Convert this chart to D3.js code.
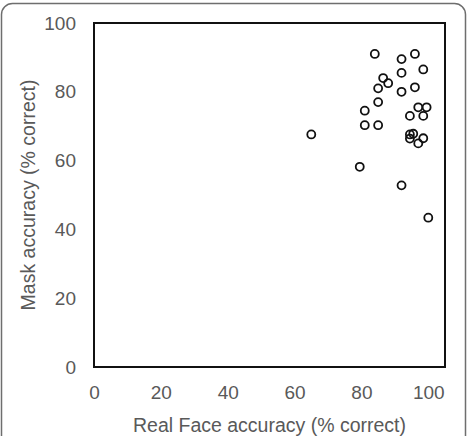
<!DOCTYPE html>
<html lang="en">
<meta charset="utf-8">
<style>
body { margin: 0; background: #fff; }
text { font-family: "Liberation Sans", Arial, sans-serif; fill: #595959; }
</style>
<body>
<script src="https://d3js.org/d3.v7.min.js"></script>
<div id="chart"></div>
<script>
// values
var realFace = [84, 92, 96, 98.5, 92, 86.5, 88, 85, 92, 96, 85, 81, 97, 99.5,
                94.5, 98.5, 81, 85, 94.5, 95.5, 94.5, 98.5, 97, 65, 79.5, 92, 100];
var maskAcc  = [91, 89.5, 91, 86.5, 85.5, 84, 82.5, 81, 80, 81.3, 77, 74.5, 75.5, 75.5,
                73, 73, 70.3, 70.3, 67.6, 67.8, 66.4, 66.5, 65, 67.6, 58.2, 52.8, 43.4];
var xTicks = [0, 20, 40, 60, 80, 100];
var yTicks = [0, 20, 40, 60, 80, 100];

var width = 469, height = 436;

var svg = d3.select("#chart").append("svg")
    .attr("width", width)
    .attr("height", height);

// outer rounded frame
svg.append("rect")
    .attr("x", 1.5).attr("y", 3.5)
    .attr("width", 464).attr("height", 450)
    .attr("rx", 11).attr("ry", 11)
    .attr("fill", "none")
    .attr("stroke", "#6e6e6e")
    .attr("stroke-width", 1.5);

var x = d3.scaleLinear().domain([0, 105]).range([94, 445]);
var y = d3.scaleLinear().domain([0, 100]).range([367, 23]);

var xAxis = svg.append("g")
    .attr("transform", "translate(0,385)")
    .call(d3.axisBottom(x).tickValues(xTicks).tickSize(0).tickPadding(0));
xAxis.select(".domain").remove();
xAxis.selectAll("text")
    .style("font-size", "19px")
    .attr("fill", "#595959")
    .attr("dy", "0.71em");

var yAxis = svg.append("g")
    .attr("transform", "translate(76,0)")
    .call(d3.axisLeft(y).tickValues(yTicks).tickSize(0).tickPadding(0));
yAxis.select(".domain").remove();
yAxis.selectAll("text")
    .style("font-size", "19px")
    .attr("fill", "#595959");

// plot box
svg.append("rect")
    .attr("x", x(0)).attr("y", y(100))
    .attr("width", x(105) - x(0))
    .attr("height", y(0) - y(100))
    .attr("fill", "none")
    .attr("stroke", "#111")
    .attr("stroke-width", 2);

svg.append("g").selectAll("circle")
    .data(realFace)
  .enter().append("circle")
    .attr("cx", function(d) { return x(d); })
    .attr("cy", function(d, i) { return y(maskAcc[i]); })
    .attr("r", 4)
    .attr("fill", "none")
    .attr("stroke", "#111")
    .attr("stroke-width", 1.8);

svg.append("text")
    .attr("x", (x(0) + x(105)) / 2)
    .attr("y", 432)
    .attr("text-anchor", "middle")
    .style("font-size", "19.5px")
    .text("Real Face accuracy (% correct)");

svg.append("text")
    .attr("transform", "translate(35," + (y(0) + y(100)) / 2 + ") rotate(-90)")
    .attr("text-anchor", "middle")
    .style("font-size", "19.5px")
    .text("Mask accuracy (% correct)");
</script>
</body>
</html>
